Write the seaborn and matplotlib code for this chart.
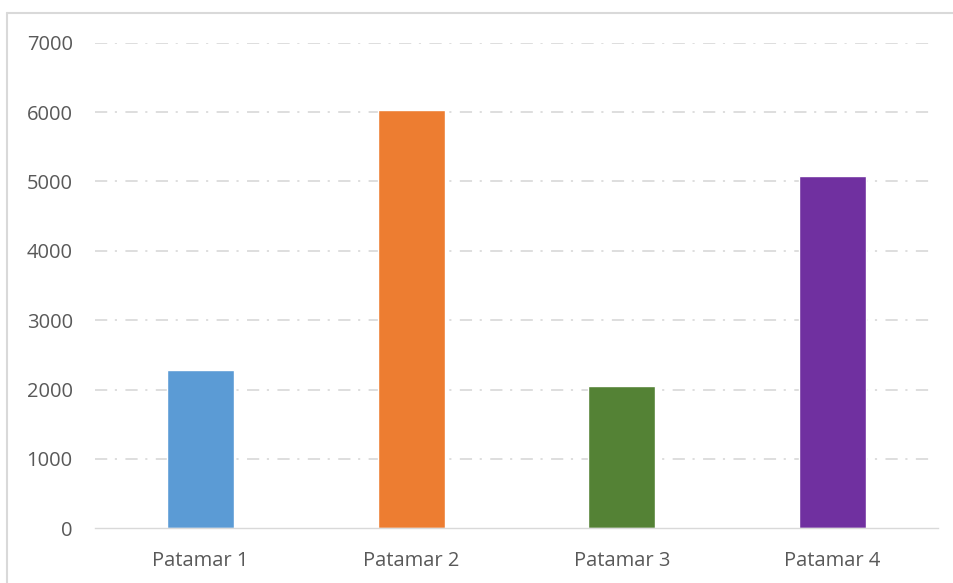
import matplotlib
matplotlib.use("Agg")
import matplotlib.pyplot as plt
import seaborn as sns
import pandas as pd
from matplotlib.lines import Line2D

categories = ["Patamar 1", "Patamar 2", "Patamar 3", "Patamar 4"]
values = [2280, 6025, 2050, 5080]
colors = ["#5B9BD5", "#ED7D31", "#548235", "#7030A0"]
yticks = [0, 1000, 2000, 3000, 4000, 5000, 6000, 7000]

sns.set_theme(style="white")
plt.rcParams["font.family"] = ["Open Sans", "DejaVu Sans"]

df = pd.DataFrame({"cat": categories, "val": values})

fig = plt.figure(figsize=(9.54, 5.83), dpi=100)
ax = fig.add_axes([95/954, (583-528.3)/583, (938-95)/954, (528.3-42.7)/583])

sns.barplot(data=df, x="cat", y="val", hue="cat", palette=colors,
            width=0.318, legend=False, ax=ax, saturation=1)

ax.set_ylim(0, 7000)
ax.set_xlim(-0.5, 3.5)
ax.set_yticks(yticks)
ax.set_yticklabels([str(t) for t in yticks])
ax.set_xlabel("")
ax.set_ylabel("")

for t in yticks[1:]:
    ax.axhline(t, xmin=0, xmax=(933-95)/(938-95), color="#d5d5d5", lw=1.1,
               linestyle=(0, (8, 5, 1.4, 5.5)), zorder=0)

for s in ["top", "right", "left"]:
    ax.spines[s].set_visible(False)
ax.spines["bottom"].set_color("#d9d9d9")
ax.spines["bottom"].set_linewidth(1.0)

ax.tick_params(axis="y", length=0, pad=16, labelsize=14.5, labelcolor="#595959")
ax.tick_params(axis="x", length=0, pad=16, labelsize=14.5, labelcolor="#595959")

# chart area border
fig.add_artist(Line2D([7/954, 1.0], [1-13/583, 1-13/583], color="#d9d9d9", lw=1.5,
                      transform=fig.transFigure))
fig.add_artist(Line2D([7/954, 7/954], [0, 1-13/583], color="#d9d9d9", lw=1.5,
                      transform=fig.transFigure))

fig.savefig("out.png", dpi=100, facecolor="white")
